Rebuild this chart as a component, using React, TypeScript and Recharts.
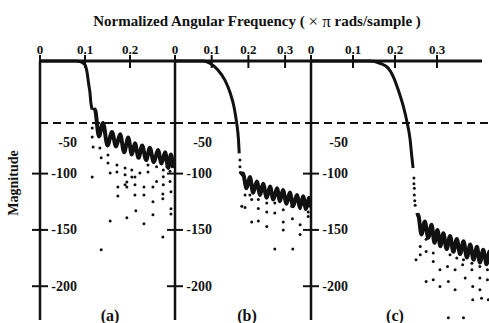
import React from 'react';
import { ComposedChart, Line, Scatter, XAxis, YAxis, ReferenceLine } from 'recharts';

type Pt = [number, number];

// shared axes
const yTicks = [-50, -100, -150, -200];
const specLevel = -55;
const ticksA = [0, 0.1, 0.2];
const ticksB = [0, 0.1, 0.2, 0.3];
const ticksC = [0, 0.1, 0.2, 0.3];

// (a) cutoff ~0.1
const curveA: Pt[] = [
  [0, 0], [0.08, 0], [0.089, -0.5], [0.1, -3.5], [0.105, -11], [0.108, -20],
  [0.111, -28], [0.113, -37], [0.116, -43],
];
const rippleA: Pt[] = [
  [0.118, -44], [0.122, -43], [0.131, -67], [0.14, -55], [0.15, -75], [0.16, -63],
  [0.169, -76], [0.178, -65], [0.187, -81], [0.196, -68], [0.204, -83], [0.211, -73],
  [0.219, -86], [0.227, -75], [0.236, -88], [0.244, -77], [0.253, -90], [0.262, -79],
  [0.27, -91], [0.278, -81], [0.285, -95], [0.291, -83], [0.296, -95],
];
const dotsA: Pt[] = [
  [0.116, -59.5], [0.116, -67.4], [0.118, -76.3], [0.116, -103], [0.133, -77.2],
  [0.136, -86], [0.151, -83.4], [0.151, -90.5], [0.156, -99.4], [0.171, -92.3],
  [0.171, -98.5], [0.173, -111.8], [0.189, -95], [0.189, -101], [0.189, -110],
  [0.204, -96.7], [0.204, -103], [0.211, -103], [0.211, -110], [0.222, -99.4],
  [0.24, -92.3], [0.24, -98.5], [0.259, -93.8], [0.259, -107], [0.274, -96.7],
  [0.274, -102.7], [0.274, -110], [0.282, -93.8], [0.289, -98], [0.289, -107],
  [0.173, -119.8], [0.193, -107.4], [0.193, -111.8], [0.211, -118.9], [0.231, -111.8],
  [0.231, -118.9], [0.251, -111.8], [0.251, -125], [0.251, -136.6], [0.273, -118],
  [0.273, -122.4], [0.291, -116.2], [0.291, -131.3], [0.291, -135.8], [0.156, -142],
  [0.193, -139.3], [0.213, -133], [0.231, -144.6], [0.273, -156.2], [0.136, -167.7],
];

// (b) cutoff ~0.17
const curveB: Pt[] = [
  [0, 0], [0.076, 0], [0.095, -2], [0.117, -8], [0.136, -17], [0.15, -28],
  [0.161, -41], [0.168, -55], [0.173, -70], [0.175, -82],
];
const rippleB: Pt[] = [
  [0.178, -101], [0.185, -100], [0.195, -113], [0.204, -103], [0.213, -117],
  [0.223, -107], [0.232, -119], [0.24, -109], [0.25, -121.5], [0.259, -111.5],
  [0.268, -123], [0.278, -113], [0.286, -124.5], [0.294, -114.5], [0.304, -126.7],
  [0.313, -116.7], [0.322, -129], [0.332, -119], [0.341, -130], [0.349, -120],
  [0.357, -131.5], [0.365, -121.5], [0.37, -130],
];
const dotsB: Pt[] = [
  [0.177, -88], [0.177, -94], [0.178, -99], [0.182, -129], [0.191, -130],
  [0.209, -143], [0.227, -142], [0.191, -119], [0.209, -123], [0.227, -131],
  [0.25, -134], [0.25, -147], [0.272, -135], [0.295, -132], [0.295, -143],
  [0.295, -150], [0.32, -140], [0.341, -145.5], [0.341, -154], [0.272, -167],
  [0.321, -167], [0.363, -128], [0.363, -134], [0.363, -138], [0.227, -123],
  [0.25, -126], [0.272, -126], [0.318, -129], [0.341, -131], [0.204, -119],
];

// (c) cutoff ~0.24
const curveC: Pt[] = [
  [0, 0], [0.14, 0], [0.164, -2], [0.184, -6.5], [0.196, -14], [0.208, -26],
  [0.22, -40.5], [0.229, -55], [0.236, -70], [0.24, -85], [0.243, -95],
];
const rippleC: Pt[] = [
  [0.25, -137], [0.255, -136.6], [0.263, -154], [0.271, -142.6], [0.279, -157],
  [0.287, -145.5], [0.294, -161.5], [0.301, -150], [0.308, -164.5], [0.315, -153],
  [0.323, -167], [0.331, -155.3], [0.339, -169.5], [0.347, -158], [0.355, -171.5],
  [0.363, -160], [0.371, -174.5], [0.379, -163], [0.387, -176.5], [0.395, -165],
  [0.402, -179], [0.41, -167.7], [0.418, -180.5], [0.425, -169], [0.432, -182],
];
const dotsC: Pt[] = [
  [0.245, -104], [0.245, -109], [0.246, -113], [0.246, -119], [0.247, -124],
  [0.248, -128], [0.25, -176.6], [0.26, -164.8], [0.274, -158.2], [0.274, -169.2],
  [0.291, -178], [0.291, -194.3], [0.274, -195.8], [0.307, -185.4], [0.307, -200.3],
  [0.325, -182.5], [0.327, -195.8], [0.343, -185.4], [0.343, -203.2], [0.361, -181],
  [0.367, -192.8], [0.383, -185.4], [0.385, -200.3], [0.385, -212], [0.402, -192.8],
  [0.402, -203.2], [0.406, -210.6], [0.42, -194.3], [0.422, -212], [0.327, -228],
  [0.363, -228], [0.26, -172], [0.291, -170.6], [0.331, -172], [0.347, -175],
  [0.363, -176.6], [0.383, -179.5], [0.402, -182.5], [0.42, -185.4],
];

const PAD_L = 12; // room left of each y axis for the tick crosses
const TOP = 61;
const INK = '#111';
const FONT = '"Liberation Serif", "Times New Roman", serif';

const pts = (a: Pt[]) => a.map(([f, db]) => ({ f, db }));

function TopTick(props: any) {
  const { x, payload } = props;
  return (
    <g>
      <line x1={x} x2={x} y1={TOP - 6} y2={TOP + 7} stroke={INK} strokeWidth={2} />
      <text x={x} y={49} textAnchor="middle" dominantBaseline="central" fontFamily={FONT}
        fontWeight="bold" fontSize={13} fill={INK}>{String(payload.value)}</text>
    </g>
  );
}

function SideTick(props: any) {
  const { y, payload } = props;
  const v = payload.value;
  // the -50 label sits lower than its value in the original figure
  const dy = v === -50 ? 25 : 0;
  return (
    <g>
      {v !== -50 && <line x1={PAD_L - 8} x2={PAD_L + 8} y1={y} y2={y} stroke={INK} strokeWidth={2} />}
      <text x={PAD_L + 37} y={y + dy} textAnchor="end" dominantBaseline="central" fontFamily={FONT}
        fontWeight="bold" fontSize={14} fill={INK}>{v}</text>
    </g>
  );
}

const dot = (p: any) => <circle cx={p.cx} cy={p.cy} r={1.5} fill={INK} />;

type PanelProps = {
  axisX: number;
  plotW: number;
  xMax: number;
  lineEnd: number;
  ticks: number[];
  curve: Pt[];
  ripple: Pt[];
  dots: Pt[];
};

function Panel({ axisX, plotW, xMax, lineEnd, ticks, curve, ripple, dots }: PanelProps) {
  return (
    <div style={{ position: 'absolute', left: axisX - PAD_L, top: 0 }}>
      <ComposedChart width={PAD_L + plotW} height={323} margin={{ top: TOP - 20, right: 0, bottom: 3, left: 0 }}>
        <XAxis type="number" dataKey="f" domain={[0, xMax]} ticks={ticks} orientation="top" height={20}
          axisLine={false} tickLine={false} tick={<TopTick />} interval={0} />
        <YAxis type="number" domain={[-230, 0]} ticks={yTicks} width={PAD_L} interval={0}
          axisLine={{ stroke: INK, strokeWidth: 2.5 }} tickLine={false} tick={<SideTick />} />
        <ReferenceLine segment={[{ x: 0, y: 0 }, { x: lineEnd, y: 0 }]} stroke={INK} strokeWidth={3} />
        <ReferenceLine y={specLevel} stroke={INK} strokeWidth={2} strokeDasharray="8 5" />
        <Line data={pts(curve)} dataKey="db" stroke={INK} strokeWidth={3} dot={false} activeDot={false}
          type="monotone" isAnimationActive={false} />
        <Line data={pts(ripple)} dataKey="db" stroke={INK} strokeWidth={4} dot={false} activeDot={false}
          type="monotone" isAnimationActive={false} />
        <Scatter data={pts(dots)} dataKey="db" shape={dot} isAnimationActive={false} />
      </ComposedChart>
    </div>
  );
}

export default function App() {
  return (
    <div style={{ position: 'absolute', left: 0, top: 0, width: 489, height: 323, overflow: 'hidden', background: '#fff' }}>
      <Panel axisX={40} plotW={135} xMax={0.3} lineEnd={0.3} ticks={ticksA} curve={curveA} ripple={rippleA} dots={dotsA} />
      <Panel axisX={175} plotW={136} xMax={0.3706} lineEnd={0.3706} ticks={ticksB} curve={curveB} ripple={rippleB} dots={dotsB} />
      <Panel axisX={311} plotW={184} xMax={0.438} lineEnd={0.407} ticks={ticksC} curve={curveC} ripple={rippleC} dots={dotsC} />
      <svg width={489} height={323} style={{ position: 'absolute', left: 0, top: 0, pointerEvents: 'none' }}>
        <text x={257} y={21} textAnchor="middle" dominantBaseline="central" fontFamily={FONT} fontSize={15} fill={INK}>
          <tspan fontWeight="bold">Normalized Angular Frequency ( </tspan>
          <tspan fontSize={17}>× π</tspan>
          <tspan fontWeight="bold">  rads/sample )</tspan>
        </text>
        <text x={13} y={183} transform="rotate(-90 13 183)" textAnchor="middle" dominantBaseline="central"
          fontFamily={FONT} fontWeight="bold" fontSize={14} fill={INK}>Magnitude</text>
        <text x={110} y={315} textAnchor="middle" dominantBaseline="central" fontFamily={FONT} fontWeight="bold" fontSize={16} fill={INK}>(a)</text>
        <text x={247} y={315} textAnchor="middle" dominantBaseline="central" fontFamily={FONT} fontWeight="bold" fontSize={16} fill={INK}>(b)</text>
        <text x={395} y={315} textAnchor="middle" dominantBaseline="central" fontFamily={FONT} fontWeight="bold" fontSize={16} fill={INK}>(c)</text>
      </svg>
    </div>
  );
}
